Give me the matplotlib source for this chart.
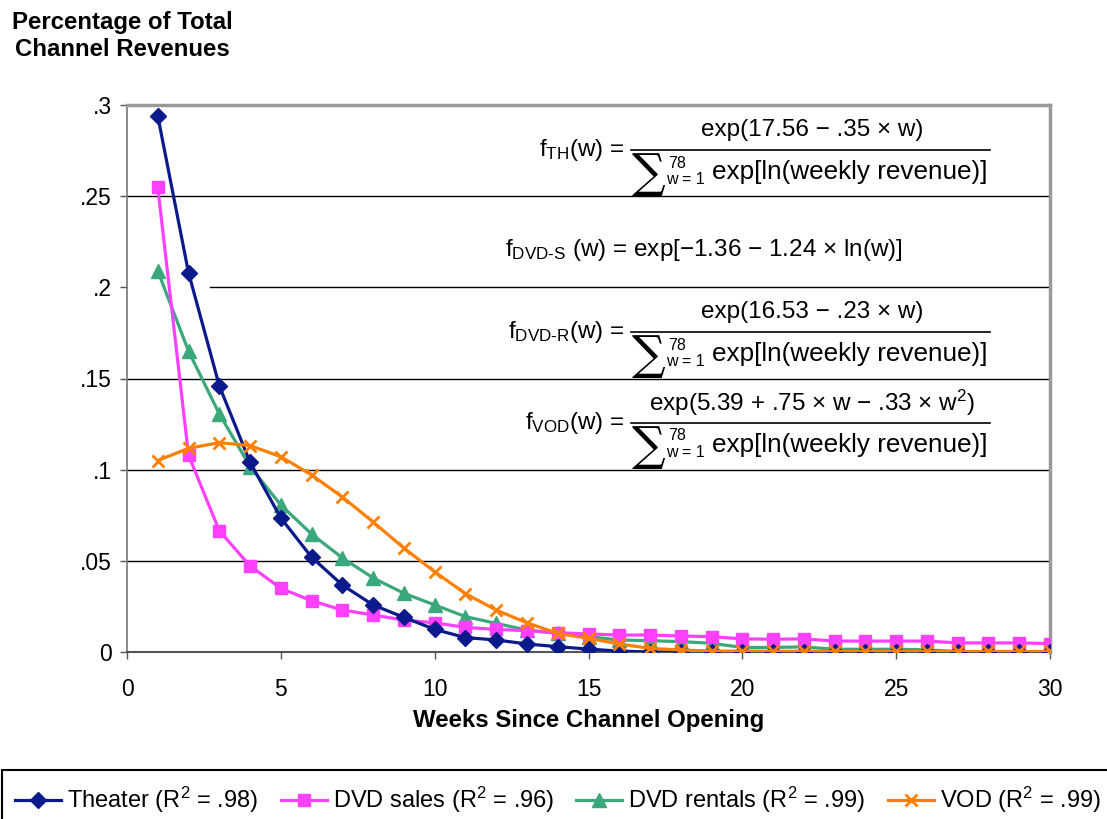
import matplotlib
matplotlib.use("Agg")
import matplotlib.pyplot as plt
from matplotlib.lines import Line2D
from matplotlib.patches import Rectangle

plt.rcParams['font.family'] = ['Liberation Sans', 'DejaVu Sans']
plt.rcParams['mathtext.fontset'] = 'custom'
plt.rcParams['mathtext.rm'] = 'Liberation Sans'
plt.rcParams['mathtext.it'] = 'Liberation Sans'
plt.rcParams['mathtext.default'] = 'regular'

# data
weeks = list(range(1, 31))
theater = [.294, .208, .146, .104, .0735, .052, .0367, .0258, .019, .0124,
           .0079, .0066, .0044, .0029, .0016, .0005, 0, 0, 0, 0,
           0, 0, 0, 0, 0, 0, 0, 0, 0, 0]
dvd_sales = [.255, .108, .0665, .0472, .0349, .0281, .023, .0203, .0175, .016,
             .0135, .0124, .0117, .0106, .0099, .0093, .0093, .0088, .0084, .0072,
             .007, .0072, .006, .006, .006, .006, .005, .005, .005, .0046]
dvd_rentals = [.209, .165, .1306, .1017, .0806, .0647, .0516, .0406, .0322, .0258,
               .0194, .0157, .012, .0102, .0084, .0066, .0062, .0057, .0048, .0025,
               .0025, .0028, .0015, .0015, .0015, .0012, .0002, .0002, .0002, .0002]
vod = [.105, .1117, .1148, .1132, .1071, .0971, .085, .0713, .057, .044,
       .032, .023, .016, .0102, .0075, .0044, .002, .0011, .0005, .0005,
       .0004, .0004, .0003, .0003, .0003, .0003, .0003, .0003, .0003, .0003]

labels = ['Theater (R$^2$ = .98)', 'DVD sales (R$^2$ = .96)',
          'DVD rentals (R$^2$ = .99)', 'VOD (R$^2$ = .99)']
yticks = [0, .05, .1, .15, .2, .25, .3]
yticklabels = ['0', '.05', '.1', '.15', '.2', '.25', '.3']

W, H = 1107, 819


def fx(px):
    return px / W


def fy(py):
    return 1 - py / H


fig = plt.figure(figsize=(W / 100, H / 100), dpi=100)
ax = fig.add_axes([fx(127), fy(652), 923 / W, 547 / H])

# gridlines (the .2 one is hidden at its left end in the original)
for v in [.05, .1, .15, .25]:
    ax.axhline(v, color='black', lw=1, zorder=1)
ax.axhline(.2, xmin=0.09, color='black', lw=1, zorder=1)

ax.plot(weeks, theater, color='#0a1a8a', lw=2.3, marker='D', ms=8, zorder=5, label=labels[0])
ax.plot(weeks, dvd_sales, color='#ff40ff', lw=2.3, marker='s', ms=8.5, zorder=4, label=labels[1])
ax.plot(weeks, dvd_rentals, color='#3aa87a', lw=2.3, marker='^', ms=9.5, zorder=3, label=labels[2])
ax.plot(weeks, vod, color='#ff8000', lw=2.3, marker='x', ms=9, mew=2, zorder=6, label=labels[3])

ax.set_xlim(0, 30)
ax.set_ylim(0, .3)
ax.set_xticks(range(0, 31, 5))
ax.set_yticks(yticks)
ax.set_yticklabels(yticklabels)
ax.tick_params(axis='both', direction='out', length=5, width=1, labelsize=16.5,
               colors='#555555', labelcolor='black')
ax.tick_params(axis='x', pad=14)
ax.tick_params(axis='y', pad=6)
for side in ['top', 'right']:
    ax.spines[side].set_color('#999999')
    ax.spines[side].set_linewidth(2.5)
ax.spines['left'].set_color('#777777')
ax.spines['bottom'].set_color('#555555')
ax.spines['left'].set_linewidth(1.2)
ax.spines['bottom'].set_linewidth(1.5)

ax.set_xlabel('Weeks Since Channel Opening', fontsize=17.3, fontweight='bold')
ax.xaxis.set_label_coords(0.5, -(721 - 652) / 547)
ax.xaxis.label.set_va('center')

fig.text(fx(122), fy(36), 'Percentage of Total\nChannel Revenues', ha='center', va='center',
         fontsize=17.3, fontweight='bold', linespacing=1.2)

# formulas
FS = 17.5


def frac(label, num, ybar, x0=631, x1=990):
    fig.text(fx(x0 - 6), fy(ybar), label, ha='right', va='center', fontsize=FS)
    fig.text(fx((x0 + x1) / 2 + 2), fy(ybar - 20), num, ha='center', va='center', fontsize=FS)
    fig.add_artist(Line2D([fx(x0), fx(x1)], [fy(ybar), fy(ybar)], color='black', lw=1.2))
    fig.text(fx(x0 + 1), fy(ybar + 24), '\u2211', ha='left', va='center', fontsize=34,
             family=['DejaVu Serif'])
    fig.text(fx(x0 + 37), fy(ybar + 13), '78', ha='left', va='center', fontsize=11.5)
    fig.text(fx(x0 + 35), fy(ybar + 29), 'w = 1', ha='left', va='center', fontsize=11.5)
    fig.text(fx(x1 - 2), fy(ybar + 22), 'exp[ln(weekly revenue)]', ha='right', va='center',
             fontsize=18.8)


frac('f$_{TH}$(w) =', 'exp(17.56 \u2212 .35 \u00d7 w)', 150)
fig.text(fx(505), fy(250), 'f$_{DVD\u2010S}$ (w) = exp[\u22121.36 \u2212 1.24 \u00d7 ln(w)]',
         ha='left', va='center', fontsize=FS)
frac('f$_{DVD\u2010R}$(w) =', 'exp(16.53 \u2212 .23 \u00d7 w)', 332)
frac('f$_{VOD}$(w) =', 'exp(5.39 + .75 \u00d7 w \u2212 .33 \u00d7 w$^2$)', 423)

# legend box across the bottom
fig.add_artist(Rectangle((fx(2), fy(822)), fx(1110), (822 - 770) / H, transform=fig.transFigure,
                         fill=False, edgecolor='black', lw=1.5))
handles, hl = ax.get_legend_handles_labels()
fig.legend(handles, hl, loc='center', bbox_to_anchor=(fx(558), fy(800)), ncol=4, frameon=False,
           fontsize=17, handlelength=1.95, handletextpad=0.25, columnspacing=0.95)

fig.savefig('out.png', dpi=100)
